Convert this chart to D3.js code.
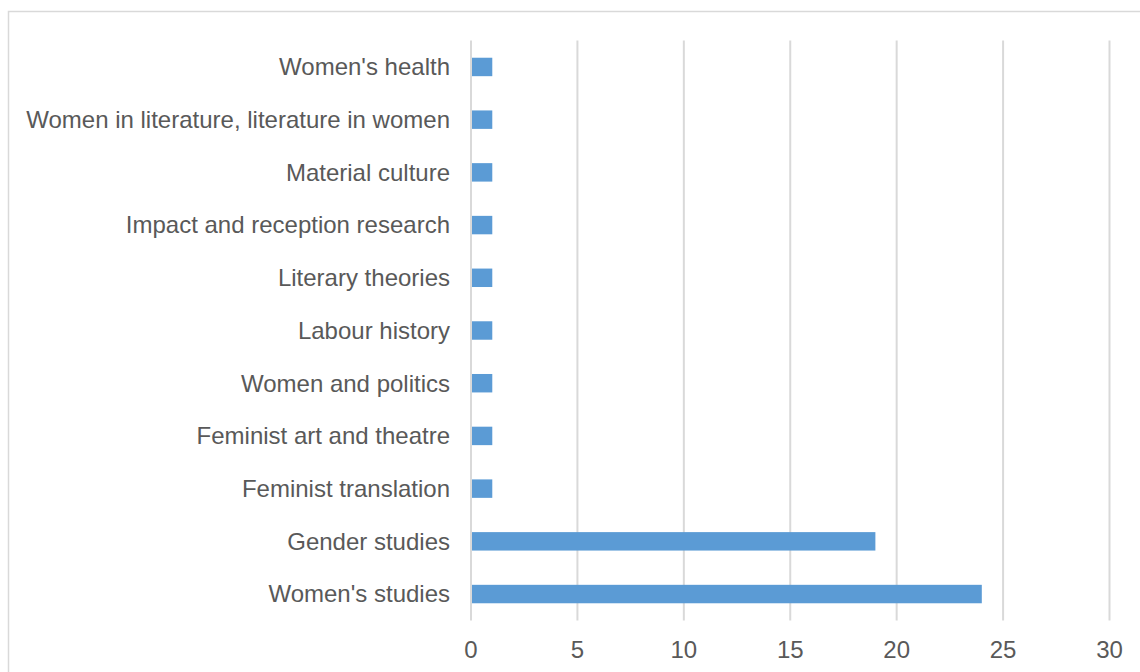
<!DOCTYPE html>
<html>
<head>
<meta charset="utf-8">
<script src="https://cdn.jsdelivr.net/npm/d3@7"></script>
<style>
  body { margin: 0; background: #fff; }
  svg text { font-family: "Liberation Sans", Arial, sans-serif; fill: #595959; }
</style>
</head>
<body>
<svg width="1140" height="672"></svg>
<script>
var categories = [
  "Women's health",
  "Women in literature, literature in women",
  "Material culture",
  "Impact and reception research",
  "Literary theories",
  "Labour history",
  "Women and politics",
  "Feminist art and theatre",
  "Feminist translation",
  "Gender studies",
  "Women's studies"
];
var counts = [1, 1, 1, 1, 1, 1, 1, 1, 1, 19, 24];
var xTicks = [0, 5, 10, 15, 20, 25, 30];

var svg = d3.select("svg");

// chart frame (runs off the right and bottom edges)
svg.append("rect")
  .attr("x", 8.5).attr("y", 11.5)
  .attr("width", 1200).attr("height", 700)
  .attr("fill", "none")
  .attr("stroke", "#d9d9d9")
  .attr("stroke-width", 1.5);

var plotLeft = 471, plotRight = 1109.5, plotTop = 40.6, plotBottom = 620.4;

var x = d3.scaleLinear().domain([0, 30]).range([plotLeft, plotRight]);
var y = d3.scaleBand().domain(categories).range([plotTop, plotBottom]).paddingInner(0.65).paddingOuter(0.325);

// gridlines
svg.append("g")
  .selectAll("line")
  .data(xTicks)
  .enter().append("line")
  .attr("x1", d => x(d)).attr("x2", d => x(d))
  .attr("y1", plotTop).attr("y2", plotBottom)
  .attr("stroke", "#d9d9d9")
  .attr("stroke-width", 2);

// bars
svg.append("g")
  .selectAll("rect")
  .data(categories)
  .enter().append("rect")
  .attr("x", x(0) + 1)
  .attr("y", d => y(d))
  .attr("width", (d, i) => x(counts[i]) - x(0) - 1)
  .attr("height", y.bandwidth())
  .attr("fill", "#5b9bd5");

// x tick labels
svg.append("g")
  .selectAll("text")
  .data(xTicks)
  .enter().append("text")
  .attr("x", d => x(d))
  .attr("y", 658)
  .attr("text-anchor", "middle")
  .attr("font-size", "24px")
  .text(d => d);

// category labels
svg.append("g")
  .selectAll("text")
  .data(categories)
  .enter().append("text")
  .attr("x", 450)
  .attr("y", d => y(d) + y.bandwidth() / 2)
  .attr("dy", "0.35em")
  .attr("text-anchor", "end")
  .attr("font-size", "24px")
  .text(d => d);
</script>
</body>
</html>
